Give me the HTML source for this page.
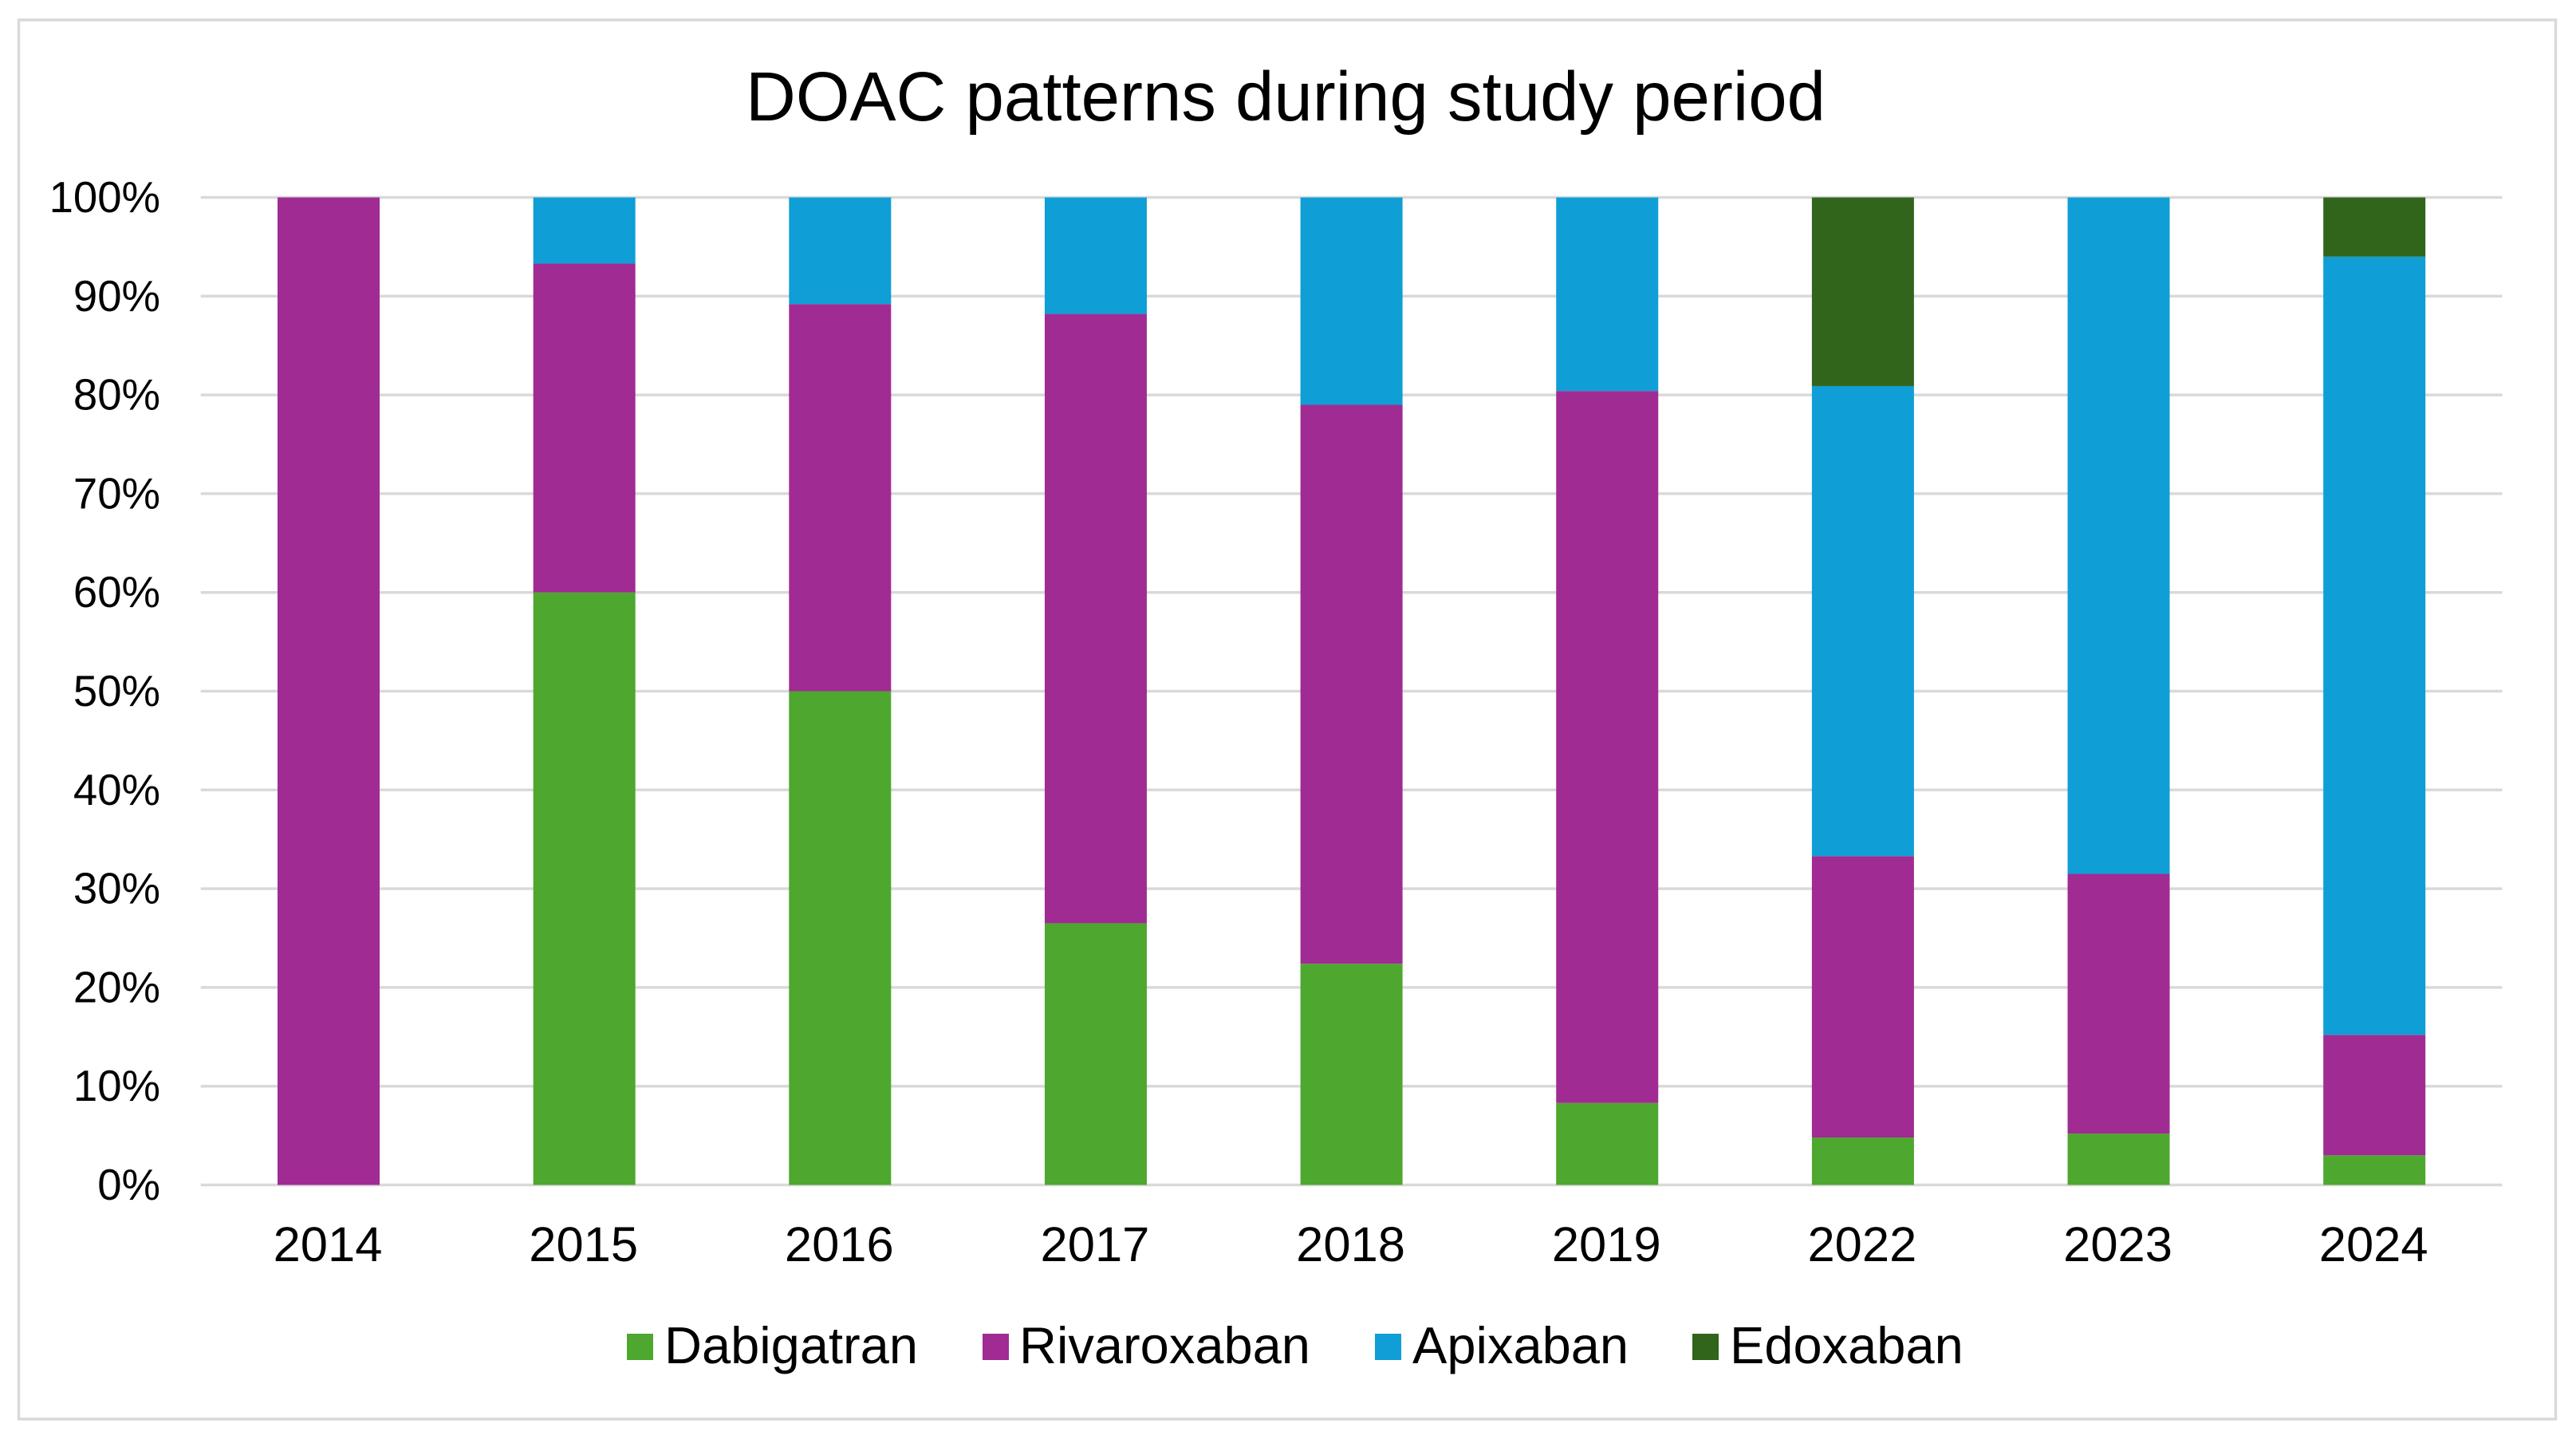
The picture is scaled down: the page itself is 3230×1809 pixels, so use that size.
<!DOCTYPE html>
<html lang="en">
<head>
<meta charset="utf-8">
<title>DOAC patterns during study period</title>
<style>
  html, body { margin: 0; padding: 0; background: #ffffff; }
  #stage { display: block; width: 3230px; height: 1809px; }
  text { font-family: "Liberation Sans", Arial, sans-serif; fill: #000000; }
</style>
</head>
<body>
<svg id="stage" xmlns="http://www.w3.org/2000/svg" width="3230" height="1809" viewBox="0 0 3230 1809">
  <rect x="0" y="0" width="3230" height="1809" fill="#ffffff"/>
  <rect x="23.5" y="25" width="3181" height="1754" fill="#ffffff" stroke="#d9d9d9" stroke-width="3.5"/>
  <text x="1612" y="151" font-size="87" text-anchor="middle">DOAC patterns during study period</text>
  <g id="gridlines"></g>
  <g id="bars"></g>
  <g id="y-axis"></g>
  <g id="x-axis"></g>
  <g id="legend">
    <g>
      <rect x="786" y="1672" width="33" height="33" fill="#4ea72e"/>
      <text x="833" y="1709" font-size="65">Dabigatran</text>
    </g>
    <g>
      <rect x="1232" y="1672" width="33" height="33" fill="#a02b93"/>
      <text x="1278" y="1709" font-size="65">Rivaroxaban</text>
    </g>
    <g>
      <rect x="1724" y="1672" width="33" height="33" fill="#0f9ed5"/>
      <text x="1771" y="1709" font-size="65">Apixaban</text>
    </g>
    <g>
      <rect x="2122" y="1672" width="33" height="33" fill="#31651c"/>
      <text x="2169" y="1709" font-size="65">Edoxaban</text>
    </g>
  </g>
</svg>
<script>
const categories = ["2014", "2015", "2016", "2017", "2018", "2019", "2022", "2023", "2024"];
const dabigatran = [0, 60, 50, 26.5, 22.4, 8.3, 4.8, 5.2, 3];
const rivaroxaban = [100, 33.3, 39.2, 61.7, 56.6, 72.1, 28.5, 26.3, 12.2];
const apixaban = [0, 6.7, 10.8, 11.8, 21, 19.6, 47.6, 68.5, 78.8];
const edoxaban = [0, 0, 0, 0, 0, 0, 19.1, 0, 6];
const yTickValues = [0, 10, 20, 30, 40, 50, 60, 70, 80, 90, 100];
const yTickLabels = ["0%", "10%", "20%", "30%", "40%", "50%", "60%", "70%", "80%", "90%", "100%"];

const SVG_NS = "http://www.w3.org/2000/svg";
const plotLeft = 251.7;
const plotRight = 3137.5;
const plotTop = 247.5;
const plotBottom = 1485.5;
const barWidth = 128;

function yScale(value) {
  return plotBottom - (value / 100) * (plotBottom - plotTop);
}
function xCenter(index) {
  return plotLeft + (index + 0.5) * (plotRight - plotLeft) / categories.length;
}
function make(tag, attrs) {
  const el = document.createElementNS(SVG_NS, tag);
  Object.keys(attrs).forEach(function (key) { el.setAttribute(key, attrs[key]); });
  return el;
}

const gridGroup = document.getElementById("gridlines");
const yGroup = document.getElementById("y-axis");
yTickValues.forEach(function (tick, i) {
  const y = yScale(tick);
  const line = make("line", { x1: plotLeft, x2: plotRight, y1: y, y2: y, stroke: "#d9d9d9", "stroke-width": 3.5 });
  
  
  gridGroup.appendChild(line);
  const label = make("text", { x: 201, y: y + 18.5, "font-size": 54.5, "text-anchor": "end" });
  label.textContent = yTickLabels[i];
  
  
  yGroup.appendChild(label);
});

const xGroup = document.getElementById("x-axis");
categories.forEach(function (category, i) {
  const label = make("text", { x: xCenter(i) - 1, y: 1581, "font-size": 61.5, "text-anchor": "middle" });
  label.textContent = category;
  
  
  xGroup.appendChild(label);
});

const seriesList = [
  { key: "dabigatran", values: dabigatran, color: "#4ea72e" },
  { key: "rivaroxaban", values: rivaroxaban, color: "#a02b93" },
  { key: "apixaban", values: apixaban, color: "#0f9ed5" },
  { key: "edoxaban", values: edoxaban, color: "#31651c" }
];
const barGroup = document.getElementById("bars");
categories.forEach(function (category, i) {
  let cumulative = 0;
  seriesList.forEach(function (series) {
    const value = series.values[i];
    if (value > 0) {
      const top = yScale(cumulative + value);
      const bottom = yScale(cumulative);
      const rect = make("rect", { x: xCenter(i) - barWidth / 2, y: top, width: barWidth, height: bottom - top, fill: series.color });
      
      
      barGroup.appendChild(rect);
    }
    cumulative += value;
  });
});
</script>
</body>
</html>
